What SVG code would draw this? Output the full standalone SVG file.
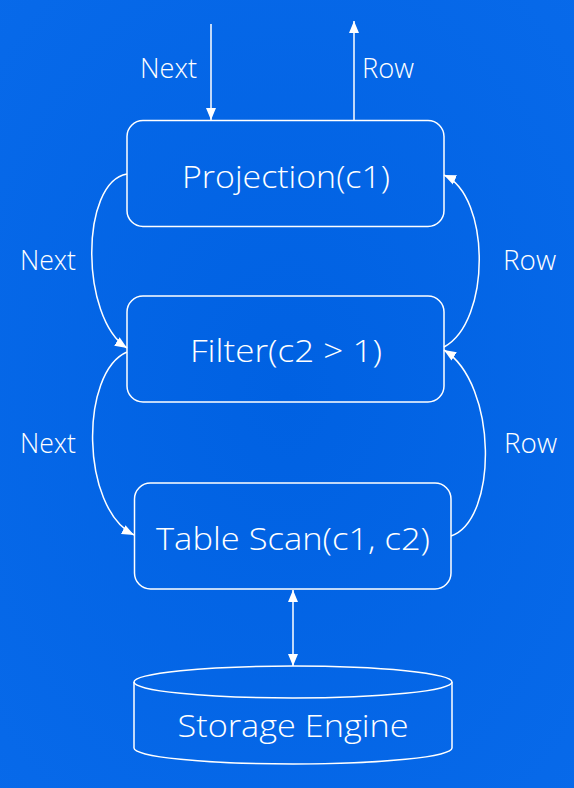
<svg xmlns="http://www.w3.org/2000/svg" width="574" height="788" viewBox="0 0 574 788">
  <defs>
    <radialGradient id="bg" cx="50%" cy="50%" r="75%">
      <stop offset="0" stop-color="#0061E2"/>
      <stop offset="1" stop-color="#086AEA"/>
    </radialGradient>
    <marker id="head" markerUnits="userSpaceOnUse" markerWidth="14" markerHeight="11" refX="12" refY="5.5" orient="auto-start-reverse">
      <path d="M0,0.5 L12,5.5 L0,10.5 z" fill="#ffffff"/>
    </marker>
    <style>
      .box { fill: none; stroke: #ffffff; stroke-width: 1.5; }
      .edge { fill: none; stroke: #ffffff; stroke-width: 1.5; marker-end: url(#head); }
      .title { font-family: "Open Sans", "Noto Sans", "Liberation Sans", sans-serif; font-size: 32px; font-weight: 300; fill: #ffffff; text-anchor: middle; }
      .lbl { font-family: "Open Sans", "Noto Sans", "Liberation Sans", sans-serif; font-size: 27px; font-weight: 300; fill: #ffffff; }
    </style>
  </defs>

  <rect x="0" y="0" width="574" height="788" fill="url(#bg)"/>

  <!-- operator nodes -->
  <g id="projection">
    <rect class="box" x="127" y="120.5" width="317" height="106" rx="16"/>
    <text class="title" x="286" y="188" textLength="208" lengthAdjust="spacingAndGlyphs">Projection(c1)</text>
  </g>
  <g id="filter">
    <rect class="box" x="127" y="296" width="317" height="106" rx="16"/>
    <text class="title" x="286" y="362" textLength="192" lengthAdjust="spacingAndGlyphs">Filter(c2 &gt; 1)</text>
  </g>
  <g id="table-scan">
    <rect class="box" x="134.5" y="483" width="316.5" height="106" rx="16"/>
    <text class="title" x="293" y="550" textLength="274" lengthAdjust="spacingAndGlyphs">Table Scan(c1, c2)</text>
  </g>
  <g id="storage-engine">
    <path class="box" d="M134,682 L134,748 A159,16 0 0 0 452,748 L452,682"/>
    <ellipse class="box" cx="293" cy="682" rx="159" ry="16"/>
    <text class="title" x="293" y="737" textLength="231" lengthAdjust="spacingAndGlyphs">Storage Engine</text>
  </g>

  <!-- connectors -->
  <g id="connectors">
    <path class="edge" d="M211,24 L211,120"/>
    <path class="edge" d="M354,120 L354,21"/>
    <path class="edge" d="M127,174 C80,182 80,318 127,348"/>
    <path class="edge" d="M444,347 C491,322 491,196 444,175"/>
    <path class="edge" d="M127,352 C80,372 80,508 134,535"/>
    <path class="edge" d="M451,536 C498,520 498,384 444,350"/>
    <path class="edge" d="M293,590 L293,666" style="marker-start:url(#head)"/>
  </g>

  <!-- connector labels -->
  <g id="labels">
    <text class="lbl" x="140" y="78" textLength="57" lengthAdjust="spacingAndGlyphs">Next</text>
    <text class="lbl" x="362" y="78" textLength="52" lengthAdjust="spacingAndGlyphs">Row</text>
    <text class="lbl" x="20" y="270" textLength="56" lengthAdjust="spacingAndGlyphs">Next</text>
    <text class="lbl" x="503" y="270" textLength="53" lengthAdjust="spacingAndGlyphs">Row</text>
    <text class="lbl" x="20" y="453" textLength="56" lengthAdjust="spacingAndGlyphs">Next</text>
    <text class="lbl" x="504" y="453" textLength="53" lengthAdjust="spacingAndGlyphs">Row</text>
  </g>
</svg>
